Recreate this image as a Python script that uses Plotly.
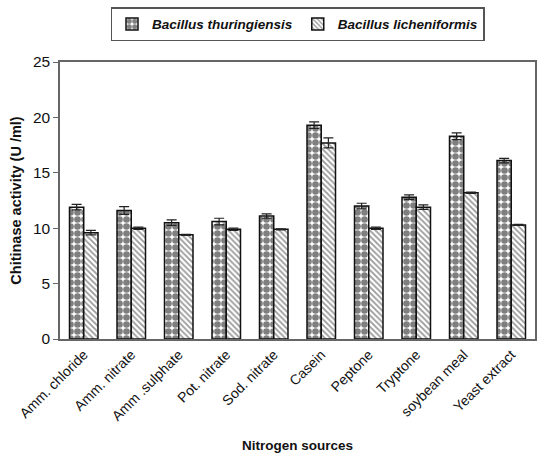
import plotly.graph_objects as go

categories = ["Amm. chloride", "Amm. nitrate", "Amm .sulphate", "Pot. nitrate", "Sod. nitrate",
              "Casein", "Peptone", "Tryptone", "soybean meal", "Yeast extract"]
bt_values = [11.9, 11.6, 10.5, 10.6, 11.1, 19.3, 12.0, 12.8, 18.3, 16.1]
bt_errors = [0.25, 0.35, 0.25, 0.3, 0.2, 0.3, 0.25, 0.2, 0.3, 0.2]
bl_values = [9.6, 10.0, 9.4, 9.9, 9.9, 17.7, 10.0, 11.9, 13.2, 10.3]
bl_errors = [0.2, 0.1, 0.05, 0.1, 0.05, 0.45, 0.1, 0.2, 0.05, 0.05]
y_ticks = [0, 5, 10, 15, 20, 25]

fig = go.Figure()
fig.add_trace(go.Bar(
    x=categories, y=bt_values, name="<b><i>Bacillus thuringiensis</i></b>",
    marker=dict(color="white", line=dict(color="#111", width=1.5),
                pattern=dict(shape=".", fgcolor="black", bgcolor="white", size=7, solidity=0.7)),
    error_y=dict(type="data", array=bt_errors, color="#222", thickness=1.2, width=5),
))
fig.add_trace(go.Bar(
    x=categories, y=bl_values, name="<b><i>Bacillus licheniformis</i></b>",
    marker=dict(color="white", line=dict(color="#111", width=1.5),
                pattern=dict(shape="\\", fgcolor="#333", bgcolor="white", size=4, solidity=0.45)),
    error_y=dict(type="data", array=bl_errors, color="#222", thickness=1.2, width=5),
))

font_family = "Liberation Sans, Arial, sans-serif"
fig.update_layout(
    width=538, height=454,
    margin=dict(l=60, r=1, t=62, b=115),
    paper_bgcolor="white", plot_bgcolor="white",
    font=dict(family=font_family, color="#111", size=13),
    barmode="group", bargap=0.4, bargroupgap=0,
    showlegend=True,
    legend=dict(orientation="h", x=0.5, xanchor="center", y=1.075, yanchor="bottom",
                bordercolor="#555", borderwidth=1.5, font=dict(size=13.5, color="#111"),
                itemwidth=30, tracegroupgap=0),
    xaxis=dict(
        tickangle=-45, tickfont=dict(size=14), showline=True, linecolor="#666", linewidth=2,
        mirror=True, ticks="", showgrid=False,
        title=dict(text="<b>Nitrogen sources</b>", font=dict(size=13.5), standoff=18),
    ),
    yaxis=dict(
        range=[0, 25], tickvals=y_ticks, tickfont=dict(size=15.5), showline=True, linecolor="#666",
        linewidth=1.5, mirror=True, ticks="outside", ticklen=5, tickcolor="#666", showgrid=False,
        zeroline=False,
        title=dict(text="<b>Chitinase activity (U /ml)</b>", font=dict(size=14.5), standoff=8),
    ),
)

fig.write_html("out.html")
